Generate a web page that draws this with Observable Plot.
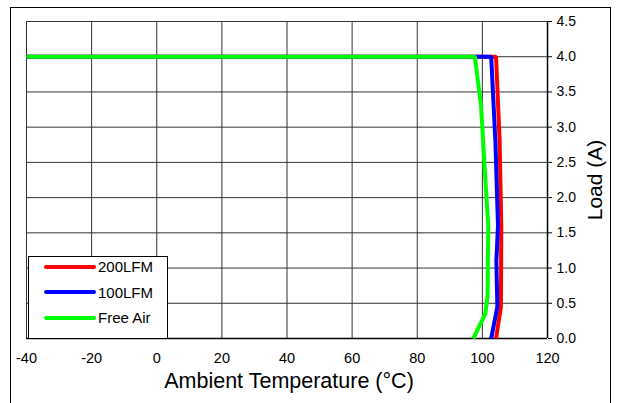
<!DOCTYPE html>
<html>
<head>
<meta charset="utf-8">
<script src="https://cdn.jsdelivr.net/npm/d3@7"></script>
<script src="https://cdn.jsdelivr.net/npm/@observablehq/plot@0.6"></script>
<style>
  html, body { margin: 0; padding: 0; background: #fff; }
  #wrap { position: relative; width: 622px; height: 403px; overflow: hidden; font-family: "Liberation Sans", Arial, sans-serif; }
  #border { position: absolute; left: 10px; top: 7px; width: 599px; height: 420px; border: 1px solid #000; pointer-events: none; }
  #legend { position: absolute; left: 28px; top: 256px; width: 138px; height: 81px; background: #fff; border: 1px solid #000; }
  .row { position: absolute; left: 0; display: flex; align-items: center; font-size: 15px; color: #000; }
  .swatch { width: 52px; height: 4px; margin-left: 15px; margin-right: 2px; border-radius: 2px; }
</style>
</head>
<body>
<div id="wrap"><div id="border"></div></div>
<script>
const seriesNames = ["200LFM", "100LFM", "Free Air"];
const seriesColors = ["#ff0000", "#0000ff", "#00ff00"];

const temp200 = [-40, 104.2, 105.3, 105.8, 105.7, 104.2];
const load200 = [4.0, 4.0, 2.8, 1.6, 0.45, 0.0];

const temp100 = [-40, 102.7, 104.0, 104.8, 104.3, 104.6, 102.7];
const load100 = [4.0, 4.0, 2.8, 1.6, 1.1, 0.45, 0.0];

const tempFree = [-40, 97.7, 99.6, 100.6, 101.8, 101.6, 100.9, 97.2];
const loadFree = [4.0, 4.0, 3.3, 2.5, 1.6, 0.6, 0.35, 0.0];

const xTicks = [-40, -20, 0, 20, 40, 60, 80, 100, 120];
const yTicks = [0, 0.5, 1.0, 1.5, 2.0, 2.5, 3.0, 3.5, 4.0, 4.5];

const temps = [temp200, temp100, tempFree];
const loads = [load200, load100, loadFree];
const data = [];
seriesNames.forEach((name, s) => {
  temps[s].forEach((t, i) => data.push({series: name, temp: t, load: loads[s][i]}));
});

const chart = Plot.plot({
  width: 622,
  height: 403,
  marginLeft: 26,
  marginRight: 75,
  marginTop: 21,
  marginBottom: 65,
  style: {fontFamily: "'Liberation Sans', Arial, sans-serif", background: "transparent", color: "#000"},
  x: {domain: [-40, 120]},
  y: {domain: [0, 4.5]},
  color: {domain: seriesNames, range: seriesColors},
  marks: [
    Plot.gridX(xTicks, {stroke: "#333", strokeOpacity: 1, strokeWidth: 1}),
    Plot.gridY(yTicks, {stroke: "#333", strokeOpacity: 1, strokeWidth: 1}),
    Plot.ruleX([120], {stroke: "#000", strokeWidth: 1.5}),
    Plot.ruleY([0], {stroke: "#000", strokeWidth: 1.5}),
    Plot.axisX(xTicks, {anchor: "bottom", tickSize: 0, tickPadding: 14, fontSize: 14.5, label: null, tickFormat: d => String(d)}),
    Plot.axisY(yTicks, {anchor: "right", tickSize: 4, tickPadding: 5, fontSize: 14, label: null, tickFormat: d3.format(".1f"), textAnchor: "start"}),
    Plot.line(data, {x: "temp", y: "load", z: "series", stroke: "series", strokeWidth: 4, strokeLinejoin: "miter", strokeLinecap: "butt"}),
    Plot.text(["Ambient Temperature (°C)"], {frameAnchor: "bottom", textAnchor: "middle", lineAnchor: "middle", dy: 43, dx: 2, fontSize: 21.5}),
    Plot.text(["Load (A)"], {frameAnchor: "right", textAnchor: "middle", lineAnchor: "middle", rotate: -90, dx: 48, fontSize: 21})
  ]
});

const wrap = document.getElementById("wrap");
wrap.insertBefore(chart, wrap.firstChild);

const legend = document.createElement("div");
legend.id = "legend";
seriesNames.forEach((name, i) => {
  const row = document.createElement("div");
  row.className = "row";
  row.style.top = (1 + i * 25.5) + "px";
  const sw = document.createElement("div");
  sw.className = "swatch";
  sw.style.background = seriesColors[i];
  const lab = document.createElement("span");
  lab.textContent = name;
  row.appendChild(sw);
  row.appendChild(lab);
  legend.appendChild(row);
});
wrap.appendChild(legend);
</script>
</body>
</html>
